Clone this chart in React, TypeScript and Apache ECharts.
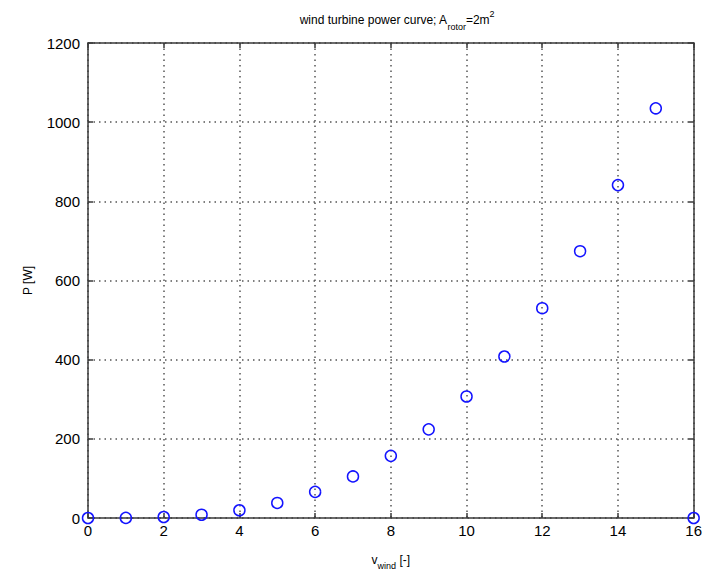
import React, { useEffect, useRef } from "react";
import * as echarts from "echarts";

const windSpeeds = [0, 1, 2, 3, 4, 5, 6, 7, 8, 9, 10, 11, 12, 13, 14, 15, 16];
const powerValues = [0, 0.3, 2.5, 8.3, 19.6, 38, 66, 105, 157, 224, 307, 408, 530, 674, 841, 1035, 0];

const FONT = "'Liberation Sans', Arial, sans-serif";
const AXIS_COLOR = "#3a3a3a";

export default function App() {
  const ref = useRef<HTMLDivElement>(null);
  useEffect(() => {
    if (!ref.current) return;
    const chart = echarts.init(ref.current, undefined, { renderer: "svg" });
    const data = windSpeeds.map((v, i) => [v, powerValues[i]]);
    const axisCommon = {
      axisLine: { show: true, onZero: false, lineStyle: { color: AXIS_COLOR, width: 1.5 } },
      axisTick: { show: true, inside: true, length: 5, lineStyle: { color: AXIS_COLOR, width: 1.5 } },
    };
    chart.setOption({
      animation: false,
      backgroundColor: "#ffffff",
      title: {
        text: "wind turbine power curve; A{sub|rotor}=2m{sup|2}",
        left: 392,
        textAlign: "center",
        top: 4,
        textStyle: {
          fontFamily: FONT,
          fontSize: 12,
          fontWeight: "normal",
          color: "#000",
          lineHeight: 22,
          rich: {
            sub: { fontFamily: FONT, fontSize: 9, verticalAlign: "bottom", lineHeight: 22, color: "#000" },
            sup: { fontFamily: FONT, fontSize: 9, verticalAlign: "top", lineHeight: 22, color: "#000" },
          },
        },
      },
      grid: { left: 88, right: 8, top: 43, bottom: 54, containLabel: false },
      xAxis: [
        {
          type: "value",
          min: 0,
          max: 16,
          interval: 2,
          position: "bottom",
          ...axisCommon,
          axisLabel: { fontFamily: FONT, fontSize: 15, color: "#000", margin: 5, formatter: (v: number) => String(v) },
          splitLine: { show: true, lineStyle: { type: [1.5, 4], color: "#555", width: 1.5 } },
          name: "v{sub|wind} [-]",
          nameLocation: "middle",
          nameGap: 32,
          nameTextStyle: {
            fontFamily: FONT,
            fontSize: 12,
            color: "#000",
            lineHeight: 18,
            rich: { sub: { fontFamily: FONT, fontSize: 9, verticalAlign: "bottom", lineHeight: 20, color: "#000" } },
          },
        },
        {
          type: "value",
          min: 0,
          max: 16,
          interval: 2,
          position: "top",
          ...axisCommon,
          axisLabel: { show: false },
          splitLine: { show: false },
        },
      ],
      yAxis: [
        {
          type: "value",
          min: 0,
          max: 1200,
          interval: 200,
          position: "left",
          ...axisCommon,
          axisLabel: { fontFamily: FONT, fontSize: 15, color: "#000", margin: 8, formatter: (v: number) => String(v) },
          splitLine: { show: true, lineStyle: { type: [1.5, 4], color: "#555", width: 1.5 } },
          name: "P [W]",
          nameLocation: "middle",
          nameGap: 54,
          nameRotate: 90,
          nameTextStyle: { fontFamily: FONT, fontSize: 12, color: "#000" },
        },
        {
          type: "value",
          min: 0,
          max: 1200,
          interval: 200,
          position: "right",
          ...axisCommon,
          axisLabel: { show: false },
          splitLine: { show: false },
        },
      ],
      series: [
        {
          type: "scatter",
          xAxisIndex: 0,
          yAxisIndex: 0,
          data,
          symbol: "circle",
          symbolSize: 11,
          itemStyle: { color: "rgba(255,255,255,0)", borderColor: "#1414ff", borderWidth: 1.5, opacity: 1 },
          clip: false,
          z: 10,
        },
      ],
    });
    return () => chart.dispose();
  }, []);
  return <div ref={ref} style={{ width: 705, height: 575, position: "absolute", left: 0, top: 0 }} />;
}
